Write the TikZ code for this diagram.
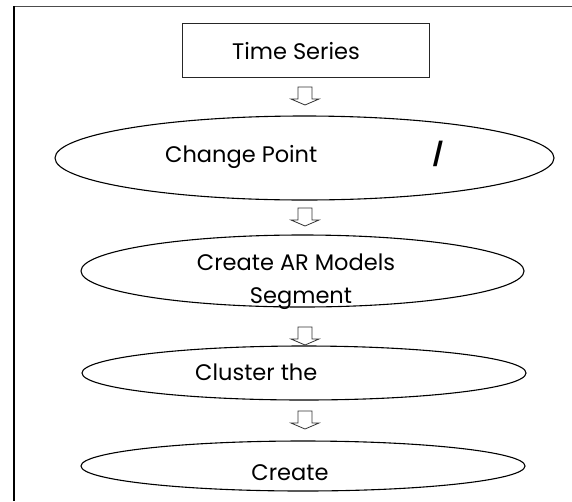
\documentclass[tikz,border=0pt]{standalone}
\usepackage{fontspec}
\setmainfont{Poppins}
\usepackage{tikz}
\usetikzlibrary{positioning,shapes.geometric}

\tikzset{
  stepbox/.style={draw=black!85, line width=0.9pt, minimum width=247pt, minimum height=54pt, inner sep=0pt},
  stage/.style={draw=black, line width=1.1pt, ellipse, inner sep=0pt, outer sep=0pt},
  hollowarrow/.style={draw=black!80, line width=0.8pt, line join=miter},
  txt/.style={font=\fontsize{22.5}{24}\selectfont, inner sep=0pt}
}
% hollow block arrow pointing down, hung from a named coordinate
\newcommand{\blockdown}[1]{%
  \draw[hollowarrow] (#1) ++(-7,0) -- ++(0,12) -- ++(-7,0) -- ++(14,6)
    -- ++(14,-6) -- ++(-7,0) -- ++(0,-12) -- cycle;}

\begin{document}
\begin{tikzpicture}[x=1pt,y=-1pt]
    \useasboundingbox (0,0) rectangle (572,501);

    % --- frame ---
    \draw[black!70, line width=1.8pt] (13,6.5) -- (572,6.5);
    \draw[black, line width=1.4pt] (14,6) -- (14,501);

    % --- input box ---
    \node[stepbox] (series) at (305.5,50) {};
    \node[txt, anchor=base] (seriestxt) at (296,59) {Time Series};

    % --- stages ---
    \node[stage, minimum width=499pt, minimum height=84pt] (change) at (304.5,158) {};
    \node[txt, anchor=base west] (changetxt) at (165,162) {Change Point};
    \node[txt, anchor=base, font=\fontsize{22.5}{24}\selectfont\bfseries] (slash) at (438,162) {/};

    \node[stage, minimum width=443pt, minimum height=72pt] (armodel) at (302.5,271) {};
    \node[txt, anchor=base] (armodeltxt) at (296,270) {Create AR Models};
    \node[txt, anchor=base] (segtxt) at (301,303) {Segment};

    \node[stage, minimum width=444pt, minimum height=54pt] (cluster) at (304,373) {};
    \node[txt, anchor=base west] (clustertxt) at (195,380) {Cluster the};

    \node[stage, minimum width=444pt, minimum height=50pt] (create) at (303,466) {};
    \node[txt, anchor=base] (createtxt) at (290,480) {Create};

    % --- arrows between stages ---
    \coordinate (a1) at (305,87);
    \coordinate (a2) at (305,208);
    \coordinate (a3) at (305,327);
    \coordinate (a4) at (305,411);
    \foreach \a in {a1,a2,a3,a4} {\blockdown{\a}}
\end{tikzpicture}
\end{document}
